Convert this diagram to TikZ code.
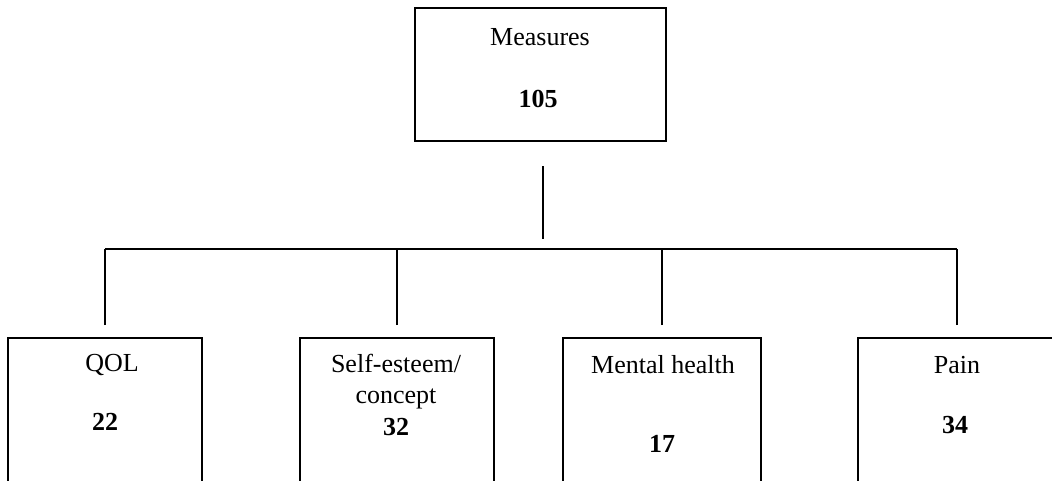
\documentclass[tikz,border=0pt]{standalone}
\usepackage{fontspec}
\setmainfont{Liberation Serif}
\usetikzlibrary{positioning}

\begin{document}
\begin{tikzpicture}[x=1pt,y=-1pt,
		box/.style={draw,line width=2pt,rectangle,anchor=north,inner sep=0pt,minimum height=200pt},
		lbl/.style={font=\fontsize{26}{30}\selectfont,inner sep=0pt,anchor=base},
		num/.style={font=\fontsize{26}{30}\selectfont\bfseries,inner sep=0pt,anchor=base},
		link/.style={line width=2pt}]
		\useasboundingbox (0,0) rectangle (1052,480);
		\clip (0,0) rectangle (1052,480);
		% top box
		\node[box,minimum width=251pt,minimum height=133pt] (measures) at (540,7) {};
		\node[lbl] (measurestxt) at (540,45) {Measures};
		\node[num] (measuresnum) at (538,107) {105};
		% lower boxes
		\node[box,minimum width=194pt] (qol) at (105,337) {};
		\node[box,minimum width=194pt] (self) at (397,337) {};
		\node[box,minimum width=198pt] (mental) at (662,337) {};
		\node[box,minimum width=198pt] (pain) at (957,337) {};
		\node[lbl] (qoltxt) at (112,371) {QOL};
		\node[num] (qolnum) at (105,430) {22};
		\node[lbl] (selftxt) at (396,372) {Self-esteem/};
		\node[lbl] (concepttxt) at (396,403) {concept};
		\node[num] (selfnum) at (396,435) {32};
		\node[lbl] (mentaltxt) at (663,373) {Mental health};
		\node[num] (mentalnum) at (662,452) {17};
		\node[lbl] (paintxt) at (957,373) {Pain};
		\node[num] (painnum) at (955,433) {34};
		% connectors
		\coordinate (bar) at (543,249);
		\draw[link] (measures.south) ++(3,24) -- ([yshift=10pt]bar);
		\draw[link] (qol.north |- bar) -- (pain.north |- bar);
		\foreach \b in {qol,self,mental,pain}
			\draw[link] ([yshift=12pt]\b.north) -- (\b.north |- bar);
	\end{tikzpicture}
\end{document}
